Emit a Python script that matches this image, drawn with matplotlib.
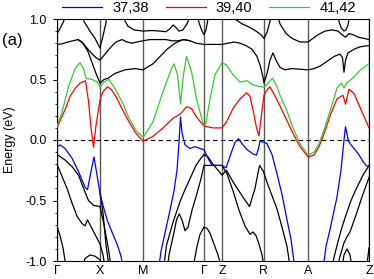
import numpy as np
import matplotlib
matplotlib.use("Agg")
import matplotlib.pyplot as plt

plt.rcParams['font.family'] = ['Liberation Sans', 'DejaVu Sans']
plt.rcParams['axes.unicode_minus'] = False

# ---- high-symmetry path ----
K_SYM = [0, 43, 86, 147, 165, 207, 251, 312]
K_LABELS = ['Γ', 'X', 'M', 'Γ', 'Z', 'R', 'A', 'Z']

# ---- coloured bands ----
green_k = [0, 5, 11.5, 18, 23, 26.5, 29, 35, 40, 43,
           47, 52, 59, 66, 72, 79, 86,
           96, 106, 114.5, 117, 120.5, 123.5, 126.5, 129.5, 134.5, 139.5, 144, 147,
           148.5, 153, 158, 165,
           169.5, 176, 183, 190.5, 194.5, 201, 207,
           211, 215.5, 219.5, 223, 229.5, 236, 243, 251,
           257, 262, 267, 273.5, 280, 284.5, 287, 289.5, 297, 303.5, 312]
green_E = [0.11, 0.23, 0.44, 0.59, 0.64, 0.59, 0.51, 0.50, 0.48, 0.44,
           0.48, 0.50, 0.41, 0.30, 0.18, 0.08, 0.02,
           0.15, 0.40, 0.59, 0.63, 0.54, 0.30, 0.54, 0.69, 0.565, 0.34, 0.20, 0.12,
           0.12, 0.34, 0.54, 0.64,
           0.62, 0.54, 0.48, 0.49, 0.46, 0.445, 0.435,
           0.47, 0.51, 0.45, 0.37, 0.25, 0.10, -0.03, -0.124,
           -0.10, -0.03, 0.083, 0.25, 0.43, 0.47, 0.43, 0.47, 0.52, 0.58, 0.63]

red_k = [0, 8.5, 13, 18.5, 23, 28.5, 31.5, 34, 36.5, 39, 43,
         46, 50.5, 54, 59, 65.5, 72, 79, 86,
         96, 106, 116, 122.5, 125, 129.5, 134.5, 139.5, 144.5, 147,
         156, 165,
         169.5, 176, 183, 189.5, 193, 196.5, 199.5, 202, 204.5, 207,
         210.5, 213, 219.5, 226.5, 236, 243, 251,
         257, 262, 267, 273.5, 280, 286, 288.5, 292, 297, 303.5, 312]
red_E = [0.10, 0.26, 0.36, 0.43, 0.47, 0.49, 0.32, 0.10, -0.06, 0.12, 0.33,
         0.40, 0.44, 0.42, 0.36, 0.25, 0.15, 0.055, -0.01,
         0.03, 0.10, 0.18, 0.21, 0.23, 0.275, 0.26, 0.19, 0.14, 0.115,
         0.10, 0.10,
         0.15, 0.26, 0.34, 0.39, 0.36, 0.23, 0.10, 0.035, 0.21, 0.37,
         0.42, 0.44, 0.34, 0.22, 0.055, -0.055, -0.14,
         -0.124, -0.055, 0.05, 0.21, 0.34, 0.37, 0.295, 0.42, 0.385, 0.26, 0.10]

blue_k = [0, 3, 8, 15, 21.5, 28, 30.5, 34, 37, 40, 43,
          46, 50.5, 55.5, 60.5, 64, 67,
          101, 104, 109, 113, 117, 120, 122, 123.5, 125, 128, 133, 138, 143, 147,
          151, 155, 161, 165,
          169, 174.5, 178, 181.5, 185, 190, 196, 199.5, 201.5, 203, 207,
          210, 215, 220, 225, 230, 234, 238.5,
          265.5, 269, 273, 280, 284, 287, 288.5, 290, 291.5, 294, 297, 301, 305, 309, 312]
blue_E = [-0.06, -0.04, -0.07, -0.15, -0.26, -0.39, -0.41, -0.26, -0.14, -0.29, -0.44,
          -0.54, -0.67, -0.77, -0.87, -0.96, -1.1,
          -1.1, -0.92, -0.73, -0.58, -0.42, -0.25, -0.02, 0.19, 0.06, -0.04, -0.07, -0.055, -0.07, -0.08,
          -0.15, -0.21, -0.21, -0.21,
          -0.23, -0.10, -0.02, 0.01, -0.03, -0.08, -0.115, -0.125, -0.07, -0.01, -0.02,
          -0.03, -0.12, -0.28, -0.45, -0.66, -0.82, -1.1,
          -1.1, -0.88, -0.74, -0.47, -0.25, 0.0, 0.11, 0.05, -0.01, -0.04, -0.07, -0.11, -0.165, -0.21, -0.22]

# ---- black bands: (k list, E list) ----
black_bands = [
    # lower bands
    ([0, 8, 15, 21.5, 28, 31.5, 36.5, 43, 47, 51, 55],
     [-0.12, -0.165, -0.22, -0.29, -0.43, -0.50, -0.54, -0.55, -0.70, -0.88, -1.1]),
    ([43, 46, 49, 53],
     [-0.44, -0.60, -0.87, -1.1]),
    ([0, 5, 10, 15, 20, 25, 28, 30.5, 33, 38, 43, 46, 49],
     [-0.20, -0.30, -0.40, -0.52, -0.63, -0.69, -0.71, -0.66, -0.70, -0.78, -0.86, -0.95, -1.1]),
    ([0, 3, 6, 10],
     [-0.71, -0.79, -0.89, -1.1]),
    ([24, 28, 33, 38, 43, 47],
     [-1.1, -0.98, -0.95, -0.96, -0.99, -1.1]),
    ([106, 109.5, 116, 123, 128, 133, 139, 144, 147,
      151, 156, 165, 169.5, 176, 185, 192.5, 198, 202.5, 206.5, 210, 215, 220, 225, 230, 234],
     [-1.1, -0.87, -0.68, -0.51, -0.41, -0.32, -0.21, -0.15, -0.12,
      -0.14, -0.20, -0.29, -0.25, -0.345, -0.46, -0.55, -0.40, -0.21, -0.26, -0.35, -0.46, -0.57, -0.72, -0.88, -1.1]),
    ([110, 112, 116.3, 119.5, 122.3, 125, 128, 131, 135, 139.7, 144, 147, 155, 165,
      170, 176, 182, 188, 193, 196, 199, 202, 205, 208],
     [-1.1, -0.95, -0.79, -0.66, -0.61, -0.66, -0.75, -0.72, -0.58, -0.45, -0.32, -0.21, -0.21, -0.21,
      -0.28, -0.42, -0.58, -0.71, -0.78, -0.76, -0.79, -0.86, -0.95, -1.1]),
    ([135, 140, 143, 147, 150, 153, 157, 161, 166],
     [-1.1, -0.88, -0.78, -0.72, -0.73, -0.77, -0.86, -0.95, -1.1]),
    ([274, 277, 281, 285, 289, 294, 300, 306, 312],
     [-1.1, -0.97, -0.84, -0.72, -0.62, -0.50, -0.39, -0.29, -0.21]),
    ([279, 283, 287, 290, 293, 299, 305, 312],
     [-1.1, -0.96, -0.85, -0.80, -0.76, -0.62, -0.47, -0.31]),
    ([284, 287, 290, 293, 296],
     [-1.1, -0.95, -0.90, -0.95, -1.1]),
    ([309, 312],
     [-1.1, -0.89]),
    # upper bands
    ([0, 3, 6, 9, 11],
     [0.88, 0.92, 0.97, 1.03, 1.1]),
    ([0, 5, 11, 16, 21, 25, 29, 34, 39, 43,
      47, 53, 59, 65, 70, 75, 80, 86,
      93, 101, 109, 115, 121, 127, 133, 139, 147,
      156, 165,
      171, 177, 183, 189, 195, 200, 203, 206, 207,
      210, 213, 216, 219, 223, 228, 235, 243, 251,
      257, 263, 270, 277, 283, 285.5, 287, 288.5, 291, 297, 303, 312],
     [0.79, 0.795, 0.81, 0.82, 0.83, 0.81, 0.77, 0.72, 0.68, 0.66,
      0.70, 0.76, 0.81, 0.83, 0.81, 0.80, 0.81, 0.82,
      0.83, 0.83, 0.83, 0.82, 0.82, 0.83, 0.82, 0.80, 0.79,
      0.79, 0.79,
      0.80, 0.81, 0.80, 0.78, 0.75, 0.69, 0.62, 0.52, 0.47,
      0.55, 0.66, 0.72, 0.66, 0.60, 0.58, 0.59, 0.585, 0.58,
      0.59, 0.61, 0.65, 0.69, 0.71, 0.68, 0.56, 0.66, 0.72, 0.75, 0.77, 0.78]),
    ([21, 26, 31, 35, 39, 43, 47, 51, 58, 68, 78, 86, 96, 103, 110, 118, 126, 133],
     [0.83, 0.80, 0.73, 0.64, 0.55, 0.47, 0.50, 0.51, 0.55, 0.58, 0.59, 0.58, 0.63, 0.69, 0.75, 0.80, 0.83, 0.82]),
    ([23, 27, 33, 38, 43, 46, 49, 51],
     [1.1, 0.98, 0.90, 0.84, 0.76, 0.86, 0.97, 1.1]),
    ([64, 67, 71, 77, 86, 95, 103, 109, 113, 116, 119, 122, 126, 130, 132, 134],
     [1.1, 1.0, 0.94, 0.91, 0.90, 0.905, 0.90, 0.895, 0.92, 0.95, 0.93, 0.90, 0.91, 0.96, 1.0, 1.1]),
    ([139, 142, 145, 147, 149, 151, 153],
     [1.1, 0.97, 0.90, 0.87, 0.91, 1.0, 1.1]),
    ([174, 178, 185, 193, 199, 204, 207, 210, 213, 215],
     [1.1, 1.0, 0.96, 0.93, 0.90, 0.87, 0.84, 0.89, 0.98, 1.1]),
    ([218, 223, 229, 235, 243, 251, 256, 261, 268, 275, 281, 285, 288.5, 292, 296, 301, 307, 312],
     [1.1, 0.96, 0.88, 0.84, 0.81, 0.81, 0.84, 0.87, 0.90, 0.91, 0.90, 0.87, 0.85, 0.88, 0.87, 0.85, 0.84, 0.83]),
    ([279, 282, 284, 287, 289, 291, 294],
     [1.1, 0.98, 0.93, 0.90, 0.91, 0.95, 1.1]),
]

W, H = 374, 279
fig = plt.figure(figsize=(W / 100, H / 100), dpi=100)
ax = fig.add_axes([57 / W, 1 - 261 / H, (369 - 57) / W, (261 - 19) / H])

for kk in K_SYM:
    ax.axvline(kk, color='0.35', lw=1.0, zorder=1)
ax.axhline(0, color='black', lw=0.8, ls=(0, (4, 3)), zorder=1)

for bk, be in black_bands:
    ax.plot(bk, be, color='black', lw=0.9, zorder=2)

lb, = ax.plot(blue_k, blue_E, color='#0000ff', lw=0.9, zorder=3, label='37,38')
lr, = ax.plot(red_k, red_E, color='#ff0000', lw=0.9, zorder=3, label='39,40')
lg, = ax.plot(green_k, green_E, color='#33cc33', lw=0.9, zorder=3, label='41,42')

ax.set_xlim(K_SYM[0], K_SYM[-1])
ax.set_ylim(-1.0, 1.0)
ax.set_xticks(K_SYM)
ax.set_xticklabels(K_LABELS, fontsize=9)
ax.tick_params(axis='x', length=0, pad=3)
ax.set_yticks([-1.0, -0.5, 0.0, 0.5, 1.0])
ax.set_yticklabels(['-1.0', '-0.5', '0.0', '0.5', '1.0'], fontsize=9)
ax.set_yticks(np.arange(-1.0, 1.01, 0.1), minor=True)
ax.tick_params(axis='y', which='major', direction='out', length=3, width=0.8, pad=4.5)
ax.tick_params(axis='y', which='minor', direction='out', length=1.5, width=0.6)
ax.set_ylabel('Energy (eV)', fontsize=9)
ax.yaxis.set_label_coords((16 - 57) / 312, 0.5)
for s in ax.spines.values():
    s.set_linewidth(0.8)

fig.text(2 / W, 1 - 40 / H, '(a)', fontsize=12, va='center', ha='left')

fig.legend(handles=[lb, lr, lg], loc='center', bbox_to_anchor=(209 / W, 1 - 8 / H),
           ncol=3, frameon=False, fontsize=10.5, handlelength=2.75, handletextpad=0.7,
           columnspacing=1.15, borderaxespad=0, borderpad=0)

fig.savefig('out.png', dpi=100)
